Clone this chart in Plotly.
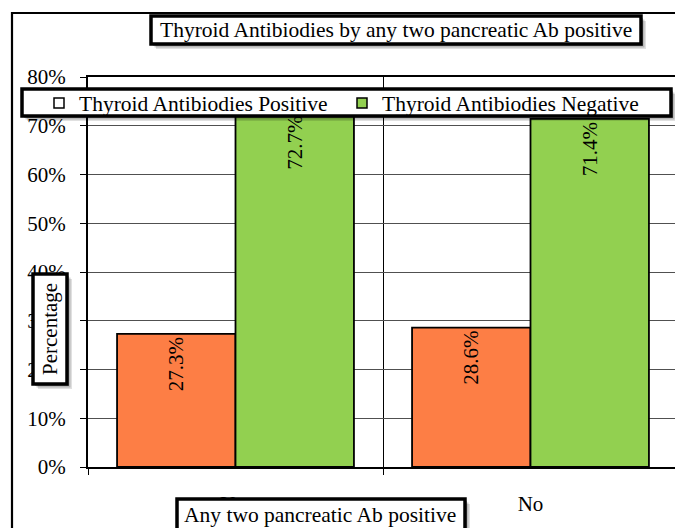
import plotly.graph_objects as go

# ---- data ----
categories = ["Yes", "No"]
positive = [27.3, 28.6]
negative = [72.7, 71.4]
series_names = ["Thyroid Antibiodies Positive", "Thyroid Antibiodies Negative"]
y_ticks = [0, 10, 20, 30, 40, 50, 60, 70, 80]
y_tick_labels = ["0%", "10%", "20%", "30%", "40%", "50%", "60%", "70%", "80%"]

FONT = "Liberation Serif"
ORANGE = "#FD7E45"
GREEN = "#92D050"

W, H = 675, 528
L, R, T, B = 88, 0, 77, 61
PW, PH = W - L - R, H - T - B
CAT_PX = 295.0


def px(xp):
    return (xp - L) / PW


def py(yp):
    return (H - B - yp) / PH


fig = go.Figure()
fig.add_trace(go.Bar(
    x=categories, y=positive, name=series_names[0], showlegend=False,
    marker=dict(color=ORANGE, line=dict(color="black", width=1.8)),
    text=[f"{v}%" for v in positive], textposition="inside", insidetextanchor="end",
    textangle=-90, textfont=dict(family=FONT, size=21, color="black"),
    constraintext="none",
))
fig.add_trace(go.Bar(
    x=categories, y=negative, name=series_names[1], showlegend=False,
    marker=dict(color=GREEN, line=dict(color="black", width=1.8)),
    text=[f"{v}%" for v in negative], textposition="inside", insidetextanchor="end",
    textangle=-90, textfont=dict(family=FONT, size=21, color="black"),
    constraintext="none",
))
# legend entries (swatches as in the reference)
for name, col, lg in zip(series_names, ["white", GREEN], ["legend", "legend2"]):
    fig.add_trace(go.Scatter(
        x=[None], y=[None], mode="markers", name=name, legend=lg,
        marker=dict(symbol="square", size=10, color=col, line=dict(color="black", width=1.5)),
    ))

shapes = []


def box(x0, y0, x1, y1, lw=3.5):
    # soft shadow
    for off, op in [(5, 0.12), (3.5, 0.18), (2, 0.25)]:
        shapes.append(dict(type="rect", xref="paper", yref="paper",
                           x0=px(x0 + off), x1=px(x1 + off), y0=py(y1 + off), y1=py(y0 + off),
                           line=dict(width=0), fillcolor=f"rgba(0,0,0,{op})", layer="above"))
    shapes.append(dict(type="rect", xref="paper", yref="paper",
                       x0=px(x0), x1=px(x1), y0=py(y1), y1=py(y0),
                       line=dict(color="black", width=lw), fillcolor="white", layer="above"))


# outer frame (left and top edges visible)
shapes.append(dict(type="rect", xref="paper", yref="paper",
                   x0=px(12), x1=px(700), y0=py(560), y1=py(13),
                   line=dict(color="black", width=2.2), fillcolor="rgba(0,0,0,0)", layer="above"))
box(151, 16, 641, 44)        # title
box(22, 89, 671, 116)        # legend
box(33, 274, 67, 384)        # y title
box(177, 499, 465, 545)      # x title
fig.update_layout(shapes=shapes)

fig.add_annotation(text="Thyroid Antibiodies by any two pancreatic Ab positive",
                   xref="paper", yref="paper", x=px(396), y=py(30), showarrow=False,
                   xanchor="center", yanchor="middle", font=dict(family=FONT, size=21.5, color="black"))
fig.add_annotation(text="Percentage", textangle=-90,
                   xref="paper", yref="paper", x=px(50), y=py(329), showarrow=False,
                   xanchor="center", yanchor="middle", font=dict(family=FONT, size=21, color="black"))
fig.add_annotation(text="Any two pancreatic Ab positive",
                   xref="paper", yref="paper", x=px(320), y=py(515), showarrow=False,
                   xanchor="center", yanchor="middle", font=dict(family=FONT, size=21.5, color="black"))

legend_common = dict(orientation="h", yanchor="middle", xanchor="left",
                     bgcolor="rgba(0,0,0,0)", borderwidth=0,
                     font=dict(family=FONT, size=21.5, color="black"), itemclick=False)

fig.update_layout(
    width=W, height=H,
    margin=dict(l=L, r=R, t=T, b=B, pad=0),
    paper_bgcolor="white", plot_bgcolor="white",
    barmode="group", bargap=0.197, bargroupgap=0,
    font=dict(family=FONT, size=21, color="black"),
    legend=dict(x=px(39), y=py(103), **legend_common),
    legend2=dict(x=px(342), y=py(103), **legend_common),
    xaxis=dict(
        type="category", range=[-0.5, -0.5 + PW / CAT_PX], tickson="boundaries",
        showline=True, linecolor="black", linewidth=2, mirror=True,
        showgrid=True, gridcolor="black", gridwidth=1,
        ticks="outside", ticklen=6, tickcolor="black", tickwidth=1,
        ticklabelstandoff=17, tickfont=dict(family=FONT, size=21, color="black"),
        fixedrange=True,
    ),
    yaxis=dict(
        range=[0, 80], tickmode="array", tickvals=y_ticks, ticktext=y_tick_labels,
        showline=True, linecolor="black", linewidth=2,
        showgrid=True, gridcolor="#505050", gridwidth=1, zeroline=False,
        ticks="outside", ticklen=6, tickcolor="black", tickwidth=1,
        ticklabelstandoff=10, tickfont=dict(family=FONT, size=21, color="black"),
        fixedrange=True,
    ),
)

fig.write_html(
    "out.html",
    config={"displayModeBar": False},
    post_script="document.body.style.margin='0px';document.body.style.overflow='hidden';",
)
